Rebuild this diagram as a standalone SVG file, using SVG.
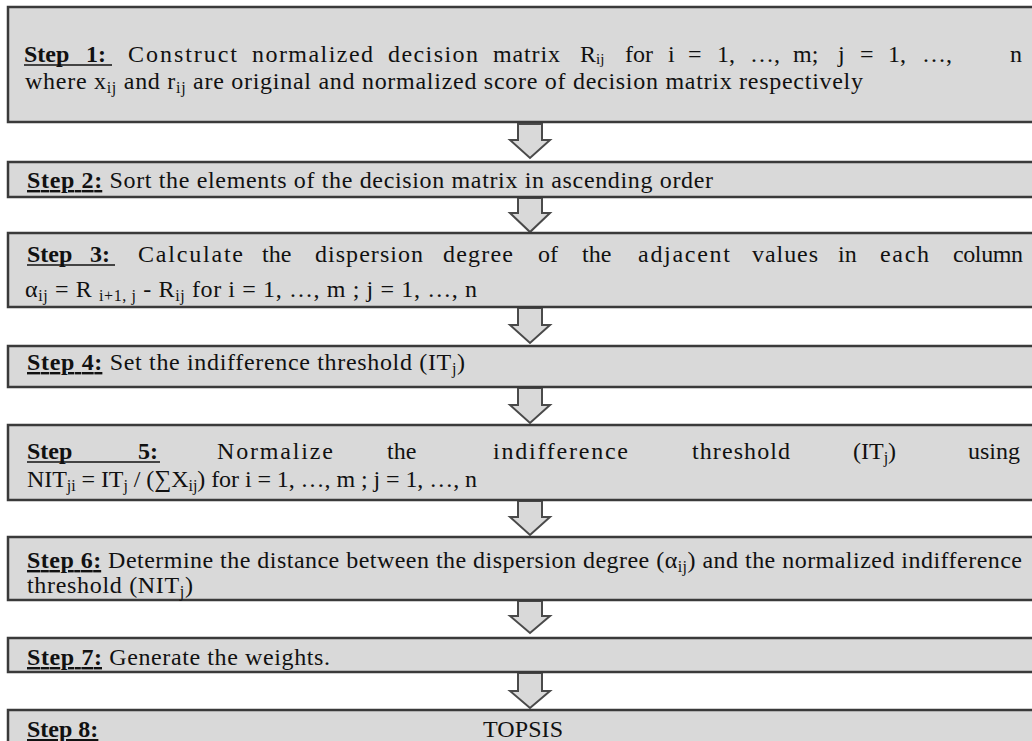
<svg xmlns="http://www.w3.org/2000/svg" width="1032" height="741" viewBox="0 0 1032 741">
<style>
.box{fill:#d9d9d9;stroke:#3a3a3a;stroke-width:2.5}
.arr{fill:#d9d9d9;stroke:#4a4a4a;stroke-width:2;stroke-linejoin:miter}
text{font-family:"Liberation Serif","Times New Roman",serif;font-size:24px;fill:#111111}
.b{font-weight:bold}
.u{text-decoration:underline}
.sub{font-size:16px}
.sub2{font-size:15px}
.ul{stroke:#111111;stroke-width:1.5}
</style>
<rect width="1032" height="741" fill="#ffffff"/>
<g id="connectors">
<path class="arr" d="M518 124 L542 124 L542 140 L550 140 L530 158 L510 140 L518 140 Z"/>
<path class="arr" d="M518 198 L542 198 L542 213 L550 213 L530 232 L510 213 L518 213 Z"/>
<path class="arr" d="M518 308 L542 308 L542 325 L550 325 L530 343 L510 325 L518 325 Z"/>
<path class="arr" d="M518 388 L542 388 L542 405 L550 405 L530 423 L510 405 L518 405 Z"/>
<path class="arr" d="M518 501 L542 501 L542 517 L550 517 L530 535 L510 517 L518 517 Z"/>
<path class="arr" d="M518 601 L542 601 L542 616 L550 616 L530 633 L510 616 L518 616 Z"/>
<path class="arr" d="M518 673 L542 673 L542 691 L550 691 L530 708 L510 691 L518 691 Z"/>
</g>
<g id="step1">
<rect class="box" x="8" y="7" width="1040" height="115"/>
<text class="b" x="24" y="62">Step</text>
<text class="b" x="86" y="62">1:</text>
<line class="ul" x1="24" y1="65" x2="112" y2="65"/>
<text x="128" y="62" textLength="109">Construct</text>
<text x="252" y="62" textLength="121">normalized</text>
<text x="388" y="62" textLength="90">decision</text>
<text x="493" y="62" textLength="67">matrix</text>
<text x="580" y="62">R<tspan class="sub2" dy="2">ij</tspan></text>
<text x="625" y="62">for</text>
<text x="668" y="62">i</text>
<text x="688" y="62">=</text>
<text x="717" y="62">1,</text>
<text x="750" y="62">…,</text>
<text x="793" y="62">m;</text>
<text x="838" y="62">j</text>
<text x="860" y="62">=</text>
<text x="888" y="62">1,</text>
<text x="922" y="62">…,</text>
<text x="1010" y="62">n</text>
<text x="25" y="89" textLength="838" lengthAdjust="spacing">where x<tspan class="sub" dy="4">ij</tspan><tspan dy="-4"> and r</tspan><tspan class="sub" dy="4">ij</tspan><tspan dy="-4"> are original and normalized score of decision matrix respectively</tspan></text>
</g>
<g id="step2">
<rect class="box" x="8" y="162" width="1040" height="35"/>
<text x="27" y="188" textLength="686" lengthAdjust="spacing"><tspan class="b u">Step 2:</tspan> Sort the elements of the decision matrix in ascending order</text>
</g>
<g id="step3">
<rect class="box" x="8" y="233" width="1040" height="74"/>
<text class="b" x="27" y="262">Step</text>
<text class="b" x="90" y="262">3:</text>
<line class="ul" x1="27" y1="265" x2="115" y2="265"/>
<text x="138" y="262" textLength="105">Calculate</text>
<text x="262" y="262">the</text>
<text x="315" y="262" textLength="108">dispersion</text>
<text x="443" y="262" textLength="70">degree</text>
<text x="538" y="262">of</text>
<text x="582" y="262">the</text>
<text x="638" y="262" textLength="92">adjacent</text>
<text x="752" y="262" textLength="66">values</text>
<text x="838" y="262">in</text>
<text x="880" y="262" textLength="49">each</text>
<text x="953" y="262" textLength="70">column</text>
<text x="25" y="297" textLength="452" lengthAdjust="spacing">α<tspan class="sub" dy="4">ij</tspan><tspan dy="-4"> = R </tspan><tspan class="sub" dy="4">i+1, j</tspan><tspan dy="-4"> - R</tspan><tspan class="sub" dy="4">ij</tspan><tspan dy="-4">  for i = 1, …, m ; j = 1, …, n</tspan></text>
</g>
<g id="step4">
<rect class="box" x="8" y="346" width="1040" height="41"/>
<text x="27" y="370" textLength="438" lengthAdjust="spacing"><tspan class="b u">Step 4:</tspan> Set the indifference threshold (IT<tspan class="sub" dy="4">j</tspan><tspan dy="-4">)</tspan></text>
</g>
<g id="step5">
<rect class="box" x="8" y="425" width="1040" height="75"/>
<text class="b" x="27" y="459">Step</text>
<text class="b" x="138" y="459">5:</text>
<line class="ul" x1="27" y1="462" x2="160" y2="462"/>
<text x="217" y="459" textLength="116">Normalize</text>
<text x="387" y="459">the</text>
<text x="493" y="459" textLength="135">indifference</text>
<text x="692" y="459" textLength="98">threshold</text>
<text x="853" y="459">(IT<tspan class="sub" dy="4">j</tspan><tspan dy="-4">)</tspan></text>
<text x="968" y="459" textLength="52">using</text>
<text x="27" y="487" textLength="450" lengthAdjust="spacing">NIT<tspan class="sub" dy="4">ji</tspan><tspan dy="-4"> = IT</tspan><tspan class="sub" dy="4">j</tspan><tspan dy="-4"> / (∑X</tspan><tspan class="sub" dy="4">ij</tspan><tspan dy="-4">) for i = 1, …, m ; j = 1, …, n</tspan></text>
</g>
<g id="step6">
<rect class="box" x="8" y="537" width="1040" height="63"/>
<text x="27" y="568" textLength="995" lengthAdjust="spacing"><tspan class="b u">Step 6:</tspan> Determine the distance between the dispersion degree (α<tspan class="sub" dy="4">ij</tspan><tspan dy="-4">) and the normalized indifference</tspan></text>
<text x="27" y="593" textLength="166" lengthAdjust="spacing">threshold (NIT<tspan class="sub" dy="4">j</tspan><tspan dy="-4">)</tspan></text>
</g>
<g id="step7">
<rect class="box" x="8" y="638" width="1040" height="34"/>
<text x="27" y="665" textLength="303" lengthAdjust="spacing"><tspan class="b u">Step 7:</tspan> Generate the weights.</text>
</g>
<g id="step8">
<rect class="box" x="8" y="710" width="1040" height="50"/>
<text class="b u" x="27" y="737">Step 8:</text>
<text x="483" y="737" textLength="80">TOPSIS</text>
</g>
</svg>
